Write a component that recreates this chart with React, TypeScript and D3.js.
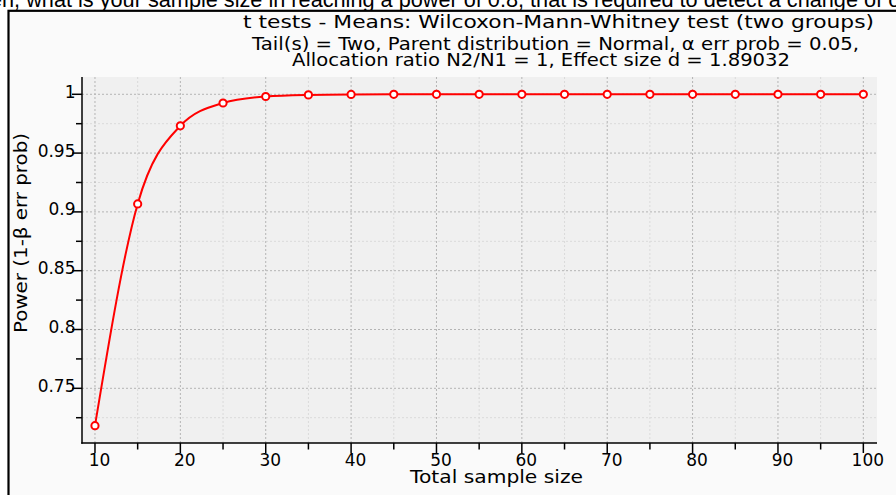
import React from "react";
import * as d3 from "d3";

const sampleSizes = [10, 15, 20, 25, 30, 35, 40, 45, 50, 55, 60, 65, 70, 75, 80, 85, 90, 95, 100];
const power = [0.7182, 0.9068, 0.9732, 0.9926, 0.9981, 0.9995, 0.9999, 1, 1, 1, 1, 1, 1, 1, 1, 1, 1, 1, 1];
const xMajorTicks = [10, 20, 30, 40, 50, 60, 70, 80, 90, 100];
const xMinorTicks = [15, 25, 35, 45, 55, 65, 75, 85, 95];
const yMajorTicks = [0.75, 0.8, 0.85, 0.9, 0.95, 1];
const yMinorTicks = [0.725, 0.775, 0.825, 0.875, 0.925, 0.975];
const yTickLabels = ["0.75", "0.8", "0.85", "0.9", "0.95", "1"];

const titleText = "t tests - Means: Wilcoxon-Mann-Whitney test (two groups)";
const subLine1 = "Tail(s) = Two, Parent distribution = Normal, α err prob = 0.05,";
const subLine2 = "Allocation ratio N2/N1 = 1, Effect size d = 1.89032";
const xTitle = "Total sample size";
const yTitle = "Power (1-β err prob)";
const pageText = "en, what is your sample size in reaching a power of 0.8, that is required to detect a change of one";

const W = 896, H = 495;
const L = 82, R = 877, T = 77, B = 443;
const FONT = "'DejaVu Sans', Verdana, sans-serif";

export default function App() {
  const x = d3.scaleLinear().domain([8.48, 101.6]).range([L, R]);
  const y = d3.scaleLinear().domain([0.7035, 1.0147]).range([B, T]);
  const line = d3
    .line<number>()
    .x((_, i) => x(sampleSizes[i]))
    .y((d) => y(d))
    .curve(d3.curveMonotoneX);

  return (
    <svg
      width={W}
      height={H}
      style={{ position: "absolute", left: 0, top: 0, display: "block" }}
    >
      <rect x={0} y={0} width={W} height={H} fill="#ffffff" />
      <text x={-10} y={7} fontFamily="'Liberation Sans', Arial, sans-serif" fontSize={21.7} fill="#000">
        {pageText}
      </text>
      <rect x={8.5} y={10.8} width={W + 20} height={H} fill="#fafafa" stroke="#000" strokeWidth={2.2} />

      {/* titles */}
      <text x={558.5} y={28} textAnchor="middle" fontFamily={FONT} fontSize={18} textLength={631} lengthAdjust="spacingAndGlyphs">
        {titleText}
      </text>
      <text x={555.5} y={50} textAnchor="middle" fontFamily={FONT} fontSize={17} textLength={607} lengthAdjust="spacingAndGlyphs">
        {subLine1}
      </text>
      <text x={541} y={65.7} textAnchor="middle" fontFamily={FONT} fontSize={17} textLength={498} lengthAdjust="spacingAndGlyphs">
        {subLine2}
      </text>

      {/* plot area */}
      <rect x={L} y={T} width={R - L} height={B - T} fill="#f0f0f0" />
      {xMinorTicks.map((t) => (
        <line key={"xg" + t} x1={x(t)} x2={x(t)} y1={T} y2={B} stroke="#dadada" strokeDasharray="2,2" strokeWidth={1} />
      ))}
      {yMinorTicks.map((t) => (
        <line key={"yg" + t} x1={L} x2={R} y1={y(t)} y2={y(t)} stroke="#dadada" strokeDasharray="2,2" strokeWidth={1} />
      ))}
      {xMajorTicks.map((t) => (
        <line key={"xG" + t} x1={x(t)} x2={x(t)} y1={T} y2={B} stroke="#b4b4b4" strokeDasharray="2,2" strokeWidth={1} />
      ))}
      {yMajorTicks.map((t) => (
        <line key={"yG" + t} x1={L} x2={R} y1={y(t)} y2={y(t)} stroke="#b4b4b4" strokeDasharray="2,2" strokeWidth={1} />
      ))}

      {/* axes */}
      <line x1={L} x2={L} y1={T} y2={B + 0.75} stroke="#000" strokeWidth={1.5} />
      <line x1={L - 0.75} x2={R} y1={B} y2={B} stroke="#000" strokeWidth={1.5} />
      {yMajorTicks.map((t) => (
        <line key={"yt" + t} x1={L - 10} x2={L} y1={y(t)} y2={y(t)} stroke="#000" strokeWidth={1.5} />
      ))}
      {yMinorTicks.map((t) => (
        <line key={"ym" + t} x1={L - 6} x2={L} y1={y(t)} y2={y(t)} stroke="#000" strokeWidth={1.5} />
      ))}
      {xMajorTicks.map((t) => (
        <line key={"xt" + t} x1={x(t)} x2={x(t)} y1={B} y2={B + 10} stroke="#000" strokeWidth={1.5} />
      ))}
      {xMinorTicks.map((t) => (
        <line key={"xm" + t} x1={x(t)} x2={x(t)} y1={B} y2={B + 6.5} stroke="#000" strokeWidth={1.5} />
      ))}
      {yMajorTicks.map((t, i) => (
        <text key={"yl" + t} x={75.5} y={y(t) + 3.5} textAnchor="end" fontFamily={FONT} fontSize={17} fill="#000">
          {yTickLabels[i]}
        </text>
      ))}
      {xMajorTicks.map((t) => (
        <text key={"xl" + t} x={x(t) + 4.5} y={466} textAnchor="middle" fontFamily={FONT} fontSize={17} fill="#000">
          {String(t)}
        </text>
      ))}

      <text x={496.5} y={482.7} textAnchor="middle" fontFamily={FONT} fontSize={18} textLength={173} lengthAdjust="spacingAndGlyphs">
        {xTitle}
      </text>
      <text
        transform={`translate(27,233) rotate(-90)`}
        textAnchor="middle"
        fontFamily={FONT}
        fontSize={18}
        textLength={200}
        lengthAdjust="spacingAndGlyphs"
      >
        {yTitle}
      </text>

      {/* series */}
      <path d={line(power) || ""} fill="none" stroke="#ff0000" strokeWidth={2} />
      {power.map((v, i) => (
        <circle key={"p" + i} cx={x(sampleSizes[i])} cy={y(v)} r={3.6} fill="#ffffff" stroke="#ff0000" strokeWidth={2} />
      ))}
    </svg>
  );
}
